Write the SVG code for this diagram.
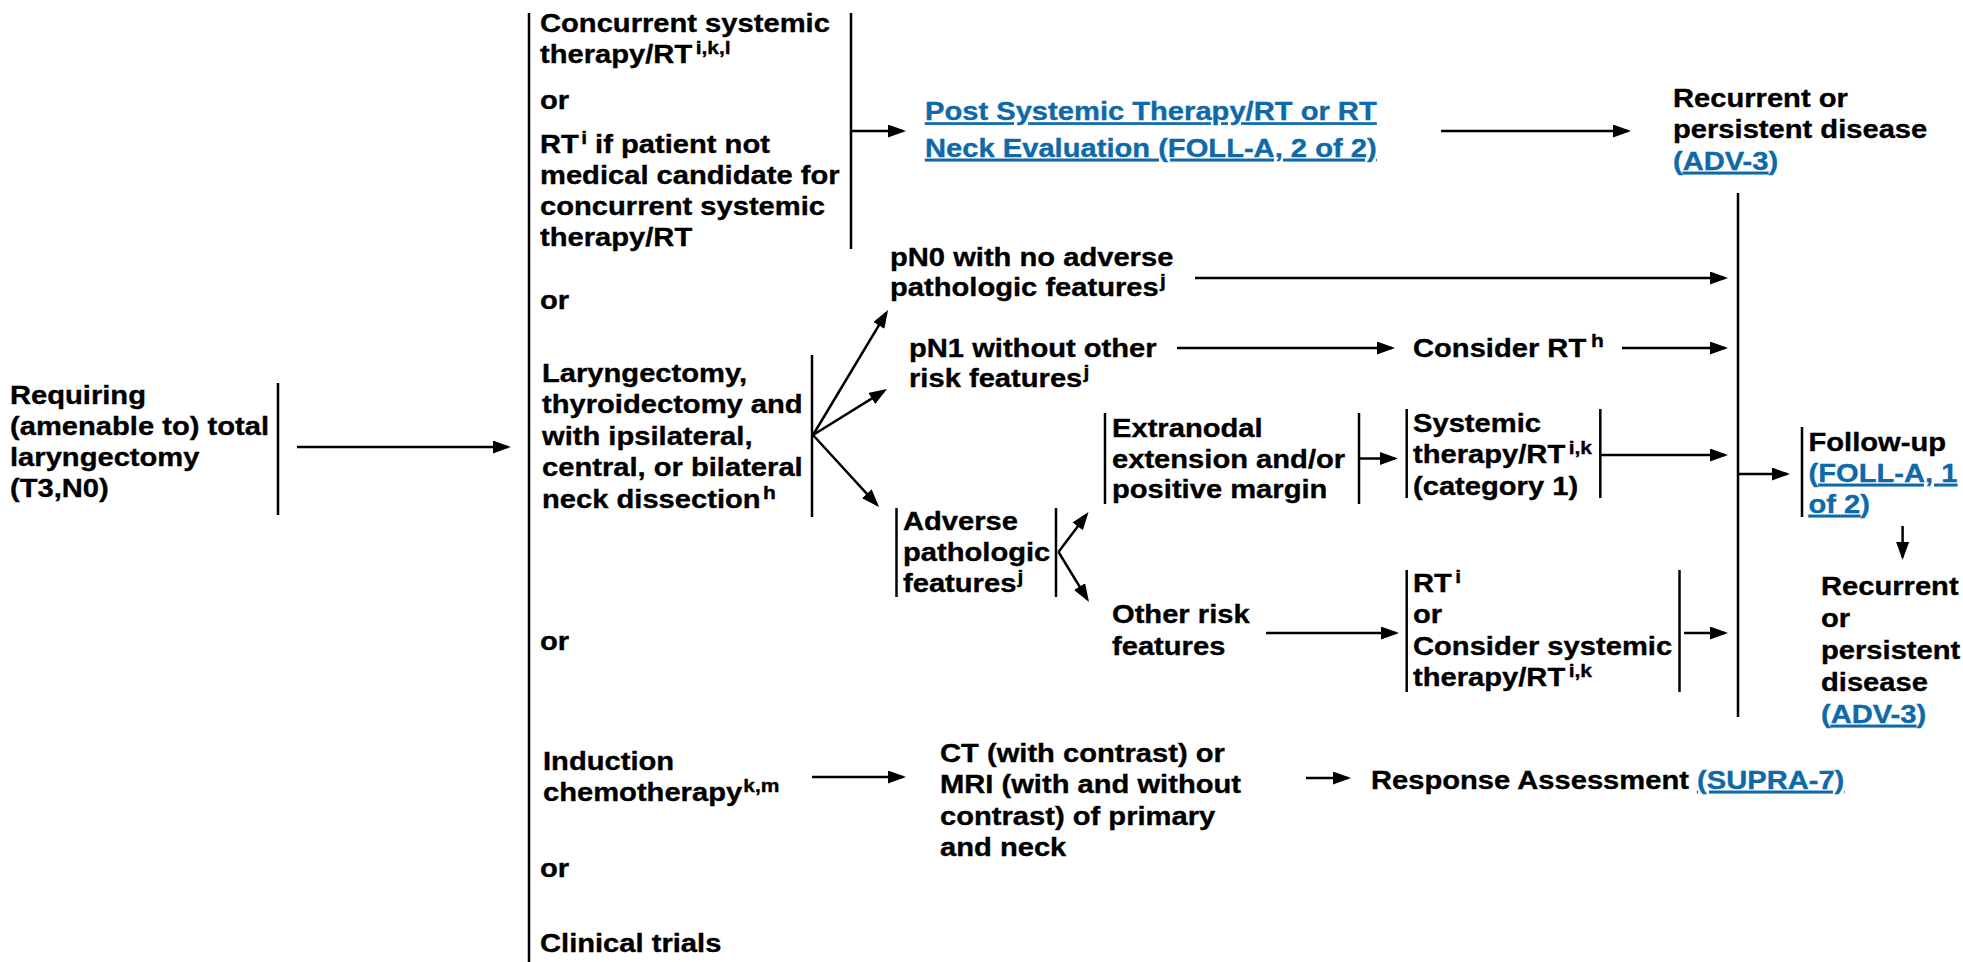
<svg xmlns="http://www.w3.org/2000/svg" width="1963" height="962" viewBox="0 0 1963 962">
<style>
.t{font-family:"Liberation Sans",Arial,Helvetica,sans-serif;font-weight:700;font-size:25px;fill:#000;stroke:#000;stroke-width:0.35}
.s{font-size:18px}
.lk{fill:#0e69a9;stroke:#0e69a9}
.u{text-decoration:underline}
.ln{stroke:#000;stroke-width:2.5;fill:none}
.ar{stroke:#000;stroke-width:2.5;fill:none;marker-end:url(#ah)}
</style>
<defs>
<marker id="ah" markerUnits="userSpaceOnUse" markerWidth="18" markerHeight="13" refX="15" refY="6.5" orient="auto">
<path d="M0,0 L18,6.5 L0,13 Z" fill="#000"/>
</marker>
</defs>
<rect width="1963" height="962" fill="#fff"/>

<g id="n-requiring">
<text class="t" transform="translate(10 0) scale(1.166 1)"><tspan x="0" y="404">Requiring</tspan><tspan x="0" y="435">(amenable to) total</tspan><tspan x="0" y="466">laryngectomy</tspan><tspan x="0" y="497">(T3,N0)</tspan></text>
<line class="ln" x1="278" y1="383" x2="278" y2="515"/>
</g>

<g id="n-options">
<line class="ln" x1="529" y1="13" x2="529" y2="962"/>
<text class="t" transform="translate(540 0) scale(1.166 1)"><tspan x="0" y="309">or</tspan><tspan x="0" y="650">or</tspan><tspan x="0" y="877">or</tspan><tspan x="0" y="952">Clinical trials</tspan></text>
</g>

<g id="n-concurrent">
<text class="t" transform="translate(540 0) scale(1.166 1)"><tspan x="0" y="32">Concurrent systemic</tspan><tspan x="0" y="63">therapy/RT<tspan class="s" dx="3" dy="-9">i,k,l</tspan></tspan><tspan x="0" y="109">or</tspan><tspan x="0" y="153">RT<tspan class="s" dx="2" dy="-9">i</tspan><tspan dy="9"> if patient not</tspan></tspan><tspan x="0" y="184">medical candidate for</tspan><tspan x="0" y="215">concurrent systemic</tspan><tspan x="0" y="246">therapy/RT</tspan></text>
<line class="ln" x1="851" y1="13" x2="851" y2="249"/>
</g>

<g id="n-post">
<text class="t lk u" transform="translate(925 0) scale(1.166 1)"><tspan x="0" y="120.5">Post Systemic Therapy/RT or RT</tspan><tspan x="0" y="157">Neck Evaluation (FOLL-A, 2 of 2)</tspan></text>
</g>

<g id="n-recurrent1">
<text class="t" transform="translate(1673 0) scale(1.166 1)"><tspan x="0" y="107">Recurrent or</tspan><tspan x="0" y="138.5">persistent disease</tspan><tspan x="0" y="170" class="lk">(<tspan class="u">ADV-3</tspan>)</tspan></text>
</g>

<g id="n-laryngectomy">
<text class="t" transform="translate(542 0) scale(1.166 1)"><tspan x="0" y="382">Laryngectomy,</tspan><tspan x="0" y="413.5">thyroidectomy and</tspan><tspan x="0" y="445">with ipsilateral,</tspan><tspan x="0" y="476.5">central, or bilateral</tspan><tspan x="0" y="508">neck dissection<tspan class="s" dx="2" dy="-9">h</tspan></tspan></text>
<line class="ln" x1="812" y1="355" x2="812" y2="517"/>
</g>

<g id="n-pn0">
<text class="t" transform="translate(890 0) scale(1.166 1)"><tspan x="0" y="266">pN0 with no adverse</tspan><tspan x="0" y="296">pathologic features<tspan class="s" dx="1" dy="-9">j</tspan></tspan></text>
</g>

<g id="n-pn1">
<text class="t" transform="translate(909 0) scale(1.166 1)"><tspan x="0" y="357">pN1 without other</tspan><tspan x="0" y="387">risk features<tspan class="s" dx="1" dy="-9">j</tspan></tspan></text>
</g>

<g id="n-considerrt">
<text class="t" transform="translate(1413 0) scale(1.166 1)"><tspan x="0" y="357">Consider RT<tspan class="s" dx="4" dy="-10">h</tspan></tspan></text>
</g>

<g id="n-adverse">
<text class="t" transform="translate(903 0) scale(1.166 1)"><tspan x="0" y="530">Adverse</tspan><tspan x="0" y="561.5">pathologic</tspan><tspan x="0" y="592">features<tspan class="s" dx="1" dy="-9">j</tspan></tspan></text>
<line class="ln" x1="896.5" y1="508" x2="896.5" y2="597"/>
<line class="ln" x1="1056" y1="508" x2="1056" y2="597"/>
</g>

<g id="n-extranodal">
<text class="t" transform="translate(1112 0) scale(1.166 1)"><tspan x="0" y="437">Extranodal</tspan><tspan x="0" y="468">extension and/or</tspan><tspan x="0" y="498.5">positive margin</tspan></text>
<line class="ln" x1="1105" y1="413" x2="1105" y2="504"/>
<line class="ln" x1="1359" y1="413" x2="1359" y2="504"/>
</g>

<g id="n-systemic">
<text class="t" transform="translate(1413 0) scale(1.166 1)"><tspan x="0" y="432">Systemic</tspan><tspan x="0" y="463.5">therapy/RT<tspan class="s" dx="3" dy="-9">i,k</tspan></tspan><tspan x="0" y="495">(category 1)</tspan></text>
<line class="ln" x1="1406.7" y1="409" x2="1406.7" y2="498"/>
<line class="ln" x1="1600.3" y1="409" x2="1600.3" y2="498"/>
</g>

<g id="n-otherrisk">
<text class="t" transform="translate(1112 0) scale(1.166 1)"><tspan x="0" y="623.5">Other risk</tspan><tspan x="0" y="655">features</tspan></text>
</g>

<g id="n-rt">
<text class="t" transform="translate(1413 0) scale(1.166 1)"><tspan x="0" y="592">RT<tspan class="s" dx="3" dy="-9">i</tspan></tspan><tspan x="0" y="623.5">or</tspan><tspan x="0" y="655">Consider systemic</tspan><tspan x="0" y="686">therapy/RT<tspan class="s" dx="3" dy="-9">i,k</tspan></tspan></text>
<line class="ln" x1="1406.7" y1="570" x2="1406.7" y2="692"/>
<line class="ln" x1="1679.5" y1="570" x2="1679.5" y2="692"/>
</g>

<g id="n-followup">
<text class="t" transform="translate(1808.5 0) scale(1.166 1)"><tspan x="0" y="451">Follow-up</tspan><tspan x="0" y="482" class="lk">(<tspan class="u">FOLL-A, 1</tspan></tspan><tspan x="0" y="513" class="lk"><tspan class="u">of 2</tspan>)</tspan></text>
<line class="ln" x1="1802" y1="427" x2="1802" y2="517"/>
</g>

<g id="n-recurrent2">
<text class="t" transform="translate(1821 0) scale(1.166 1)"><tspan x="0" y="595">Recurrent</tspan><tspan x="0" y="627">or</tspan><tspan x="0" y="659">persistent</tspan><tspan x="0" y="691">disease</tspan><tspan x="0" y="723" class="lk">(<tspan class="u">ADV-3</tspan>)</tspan></text>
</g>

<g id="n-induction">
<text class="t" transform="translate(543 0) scale(1.166 1)"><tspan x="0" y="770">Induction</tspan><tspan x="0" y="801">chemotherapy<tspan class="s" dx="1" dy="-9">k,m</tspan></tspan></text>
</g>

<g id="n-ct">
<text class="t" transform="translate(940 0) scale(1.166 1)"><tspan x="0" y="762">CT (with contrast) or</tspan><tspan x="0" y="793.5">MRI (with and without</tspan><tspan x="0" y="825">contrast) of primary</tspan><tspan x="0" y="856.5">and neck</tspan></text>
</g>

<g id="n-response">
<text class="t" transform="translate(1371 0) scale(1.166 1)"><tspan x="0" y="789">Response Assessment <tspan class="lk u">(SUPRA-7)</tspan></tspan></text>
</g>

<g id="connectors">
<line class="ln" x1="1738" y1="193" x2="1738" y2="717"/>
<line class="ar" x1="297" y1="447" x2="508" y2="447"/>
<line class="ar" x1="851" y1="131" x2="903" y2="131"/>
<line class="ar" x1="1441" y1="131" x2="1628" y2="131"/>
<line class="ar" x1="813" y1="435" x2="886.5" y2="312.6"/>
<line class="ar" x1="813" y1="435" x2="884.5" y2="390.6"/>
<line class="ar" x1="813" y1="435" x2="877" y2="504.8"/>
<line class="ar" x1="1195" y1="278" x2="1725" y2="278"/>
<line class="ar" x1="1177" y1="348" x2="1392" y2="348"/>
<line class="ar" x1="1622" y1="348" x2="1725" y2="348"/>
<line class="ar" x1="1058.5" y1="552" x2="1086.7" y2="514.4"/>
<line class="ar" x1="1058.5" y1="552" x2="1087.4" y2="599.4"/>
<line class="ar" x1="1359" y1="458.5" x2="1395" y2="458.5"/>
<line class="ar" x1="1600.3" y1="455" x2="1725" y2="455"/>
<line class="ar" x1="1266" y1="633" x2="1396" y2="633"/>
<line class="ar" x1="1684" y1="633" x2="1725" y2="633"/>
<line class="ar" x1="1739" y1="474" x2="1787" y2="474"/>
<line class="ar" x1="1902.6" y1="526" x2="1902.6" y2="557"/>
<line class="ar" x1="812" y1="777" x2="903" y2="777"/>
<line class="ar" x1="1306" y1="778" x2="1348" y2="778"/>
</g>
</svg>
